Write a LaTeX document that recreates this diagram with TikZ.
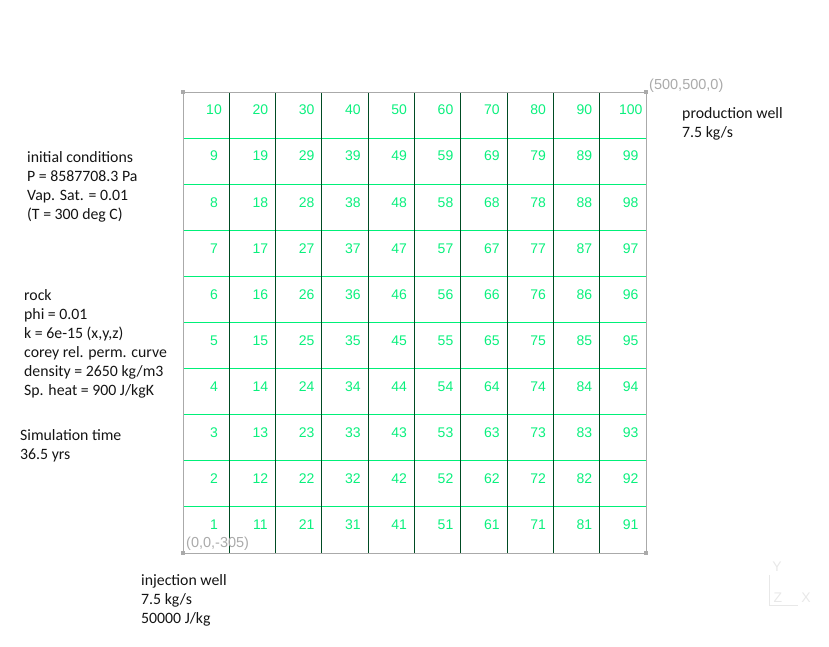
\documentclass[tikz,border=0pt]{standalone}
\usepackage{fontspec}
\setmainfont{Carlito}
\newfontfamily\gridfont{Liberation Sans}
\usetikzlibrary{positioning}

\definecolor{numGreen}{RGB}{10,240,125}
\definecolor{rowGreen}{RGB}{0,240,120}
\definecolor{colGreen}{RGB}{0,75,35}
\definecolor{edgeGray}{RGB}{170,170,170}
\definecolor{axisGray}{RGB}{232,232,232}

\begin{document}
\begin{tikzpicture}[x=1pt, y=-1pt,
  cellNum/.style={font=\gridfont\fontsize{14}{16}\selectfont,
    text=numGreen, inner sep=0pt},
  infoText/.style={anchor=north west, align=left, inner sep=0pt,
    font=\fontsize{15.8}{19}\selectfont, text={rgb,255:red,20;green,20;blue,20}},
  cornerLbl/.style={anchor=west, inner sep=0pt, text=edgeGray,
    font=\gridfont\fontsize{14.5}{16}\selectfont},
  cornerDot/.style={fill=edgeGray, minimum size=4pt, inner sep=0pt},
  rowLine/.style={draw=rowGreen, line width=1pt},
  colLine/.style={draw=colGreen, line width=1pt},
  axisLbl/.style={text=axisGray, inner sep=0pt,
    font=\gridfont\fontsize{14}{16}\selectfont},
]
  \useasboundingbox (0,0) rectangle (829,646);

  %% -- grid lines ---------------------------------------------
  \coordinate (gridNW) at (183,92);
  \coordinate (gridSE) at (646,553);
  \foreach \j in {1,...,9}
    \draw[rowLine] (183,92+\j*46.1) -- (646,92+\j*46.1);
  \foreach \i in {1,...,9}
    \draw[colLine] (183+\i*46.3,92) -- (183+\i*46.3,553);
  \draw[edgeGray, line width=1pt] (gridNW) rectangle (gridSE);

  %% -- corner markers -----------------------------------------
  \node[cornerDot] (dotNW) at (183,92) {};
  \node[cornerDot] (dotNE) at (646,92) {};
  \node[cornerDot] (dotSW) at (183,553) {};
  \node[cornerDot] (dotSE) at (646,553) {};
  \node[cornerLbl] (lblTop) at (649,86) {(500,500,0)};
  \node[cornerLbl] (lblBot) at (186,544) {(0,0,-305)};

  %% -- cell numbers -------------------------------------------
  \foreach \i in {0,...,9}
    \foreach \r in {0,...,9} {
      \pgfmathtruncatemacro{\n}{10*\i+10-\r}
      \node[cellNum] (c\n) at (183+\i*46.3+31,92+\r*46.1+18) {\n};
    }

  %% -- side notes ---------------------------------------------
  \node[infoText] (initCond) at (27,151) {%
    initial conditions\\
    P = 8587708.3 Pa\\
    Vap. Sat. = 0.01\\
    (T = 300 deg C)};
  \node[infoText] (rock) at (24,289) {%
    rock\\
    phi = 0.01\\
    k = 6e-15 (x,y,z)\\
    corey rel. perm. curve\\
    density = 2650 kg/m3\\
    Sp. heat = 900 J/kgK};
  \node[infoText] (simTime) at (20,429) {%
    Simulation time\\
    36.5 yrs};
  \node[infoText] (injWell) at (141,574) {%
    injection well\\
    7.5 kg/s\\
    50000 J/kg};
  \node[infoText] (prodWell) at (682,107) {%
    production well\\
    7.5 kg/s};

  %% -- axis triad ---------------------------------------------
  \coordinate (axO) at (769,605);
  \draw[axisGray, line width=1pt] (769,575) -- (axO) -- (798,605);
  \node[axisLbl] (axY) at (777,567) {Y};
  \node[axisLbl] (axZ) at (778,598) {Z};
  \node[axisLbl] (axX) at (806,598) {X};
\end{tikzpicture}
\end{document}
